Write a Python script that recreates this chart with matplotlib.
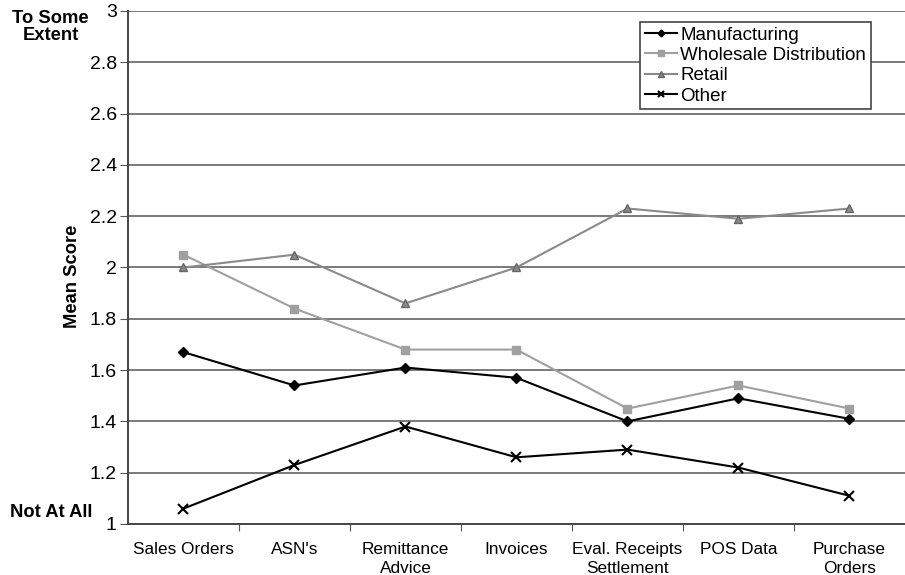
import matplotlib.pyplot as plt

plt.rcParams["font.family"] = ["Liberation Sans", "DejaVu Sans"]

categories = ["Sales Orders", "ASN's", "Remittance\nAdvice", "Invoices",
              "Eval. Receipts\nSettlement", "POS Data", "Purchase\nOrders"]
manufacturing = [1.67, 1.54, 1.61, 1.57, 1.40, 1.49, 1.41]
wholesale = [2.05, 1.84, 1.68, 1.68, 1.45, 1.54, 1.45]
retail = [2.00, 2.05, 1.86, 2.00, 2.23, 2.19, 2.23]
other = [1.06, 1.23, 1.38, 1.26, 1.29, 1.22, 1.11]
y_ticks = [1, 1.2, 1.4, 1.6, 1.8, 2, 2.2, 2.4, 2.6, 2.8, 3]

fig = plt.figure(figsize=(9.05, 5.75), dpi=100)
ax = fig.add_axes([0.1414, 0.0887, 0.8586, 0.8922])
x = list(range(len(categories)))

# horizontal grid lines above the baseline
for y in y_ticks[1:]:
    ax.axhline(y, color="#7a7a7a", lw=1.4, zorder=1)

ax.plot(x, manufacturing, color="black", marker="D", ms=5, lw=1.5,
        label="Manufacturing", zorder=3)
ax.plot(x, wholesale, color="#a0a0a0", marker="s", ms=6, lw=1.5,
        label="Wholesale Distribution", zorder=3)
ax.plot(x, retail, color="#8a8a8a", marker="^", ms=6, lw=1.5,
        mec="#666666", label="Retail", zorder=3)
ax.plot(x, other, color="black", marker="x", ms=7, mew=1.5, lw=1.5,
        label="Other", zorder=3)

ax.set_xlim(-0.5, 6.5)
ax.set_ylim(1, 3)
ax.set_yticks(y_ticks)
ax.set_yticklabels([f"{v:g}" for v in y_ticks], fontsize=14)
ax.set_xticks([i + 0.5 for i in x[:-1]])
ax.set_xticklabels([])
ax.set_xticks(x, minor=True)
ax.set_xticklabels(categories, minor=True, fontsize=12.4, linespacing=1.3)
ax.tick_params(axis="x", which="minor", length=0, pad=13)
ax.tick_params(axis="x", which="major", length=5, direction="out", color="#555555")
ax.tick_params(axis="y", length=6, color="#555555", pad=2)

for side in ["top", "right"]:
    ax.spines[side].set_visible(False)
for side in ["left", "bottom"]:
    ax.spines[side].set_color("#444444")
    ax.spines[side].set_linewidth(1.4)

leg = ax.legend(loc="upper right", bbox_to_anchor=(0.956, 0.979),
                fontsize=13.5, frameon=True, fancybox=False,
                handlelength=1.75, handletextpad=0.15, borderpad=0.25,
                labelspacing=0.17, borderaxespad=0, markerscale=0.7)
leg.get_frame().set_edgecolor("#444444")
leg.get_frame().set_linewidth(1.2)
leg.get_frame().set_alpha(1)

fig.text(0.056, 0.982, "To Some\nExtent", ha="center", va="top",
         fontsize=13.2, fontweight="bold", linespacing=0.95)
fig.text(0.057, 0.108, "Not At All", ha="center", va="center",
         fontsize=13.2, fontweight="bold")
fig.text(0.0796, 0.52, "Mean Score", ha="center", va="center",
         rotation=90, fontsize=13.2, fontweight="bold")

fig.savefig("out.png", dpi=100)
